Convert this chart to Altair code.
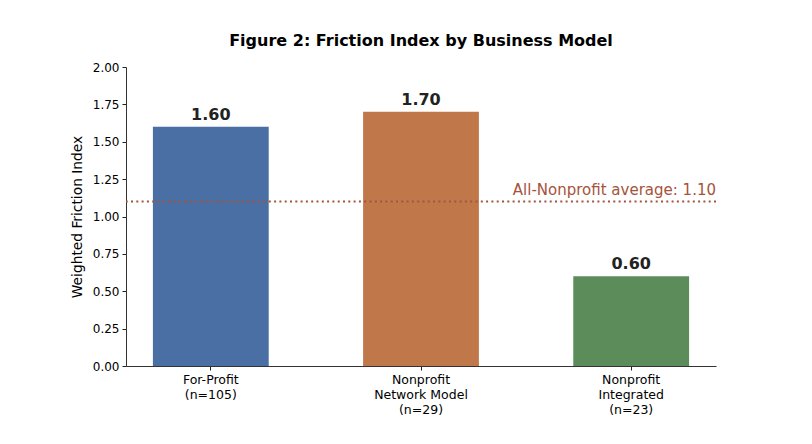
import altair as alt
import pandas as pd

categories = ["For-Profit\n(n=105)", "Nonprofit\nNetwork Model\n(n=29)", "Nonprofit\nIntegrated\n(n=23)"]
values = [1.60, 1.70, 0.60]
colors = ["#4a6fa5", "#c0784b", "#5b8c5a"]
avg_value = 1.10
avg_label = "All-Nonprofit average: 1.10"
y_ticks = [0, 0.25, 0.5, 0.75, 1.0, 1.25, 1.5, 1.75, 2.0]

df = pd.DataFrame({"cat": categories, "val": values, "label": [f"{v:.2f}" for v in values]})
avg_df = pd.DataFrame({"val": [avg_value], "text": [avg_label]})

W, H = 590, 299
FONT = "DejaVu Sans"

x = alt.X("cat:N", sort=categories, title=None,
          scale=alt.Scale(paddingInner=0.449, paddingOuter=0.128),
          axis=alt.Axis(labelAngle=0, labelExpr="split(datum.label, '\\n')",
                        labelFontSize=12.5, labelColor="#000", labelFont=FONT,
                        tickColor="#222", domainColor="#333", tickSize=4,
                        labelPadding=3, labelLineHeight=15))
y_axis = alt.Axis(values=y_ticks,
                  format=".2f", grid=False, labelFontSize=12, labelColor="#000",
                  labelOverlap=False,
                  labelFont=FONT, titleFont=FONT, titleFontSize=13.8,
                  titleFontWeight="normal", titleColor="#000",
                  tickColor="#222", domainColor="#333", tickSize=4,
                  labelPadding=3, titlePadding=8)
y_scale = alt.Scale(domain=[0, 2.0], nice=False)


def y_enc():
    return alt.Y("val:Q", title="Weighted Friction Index", scale=y_scale, axis=y_axis)


bars = alt.Chart(df).mark_bar().encode(
    x=x, y=y_enc(),
    color=alt.Color("cat:N", sort=categories, scale=alt.Scale(domain=categories, range=colors), legend=None),
)

labels = alt.Chart(df).mark_text(baseline="bottom", dy=-4, fontSize=16, fontWeight="bold",
                                 font=FONT, color="#222").encode(
    x=x, y=y_enc(), text="label:N")

rule = alt.Chart(avg_df).mark_rule(color="#a5533a", strokeWidth=2, strokeDash=[2, 3.3]).encode(
    y=y_enc())

avg_text = alt.Chart(avg_df).mark_text(align="right", baseline="bottom", dy=-4, fontSize=15,
                                       font=FONT, color="#a5533a").encode(
    y=y_enc(), x=alt.value(W), text="text:N")

chart = alt.layer(bars, labels, rule, avg_text).properties(
    width=W, height=H,
    title=alt.TitleParams("Figure 2: Friction Index by Business Model", fontSize=16,
                          fontWeight="bold", font=FONT, color="#000", offset=12),
    autosize=alt.AutoSizeParams(type="none"),
    padding={"left": 118, "top": 59, "right": 88, "bottom": 70},
    background="white",
).configure_view(strokeWidth=0, stroke="transparent")

chart.save("out.html", embed_options={"renderer": "svg", "actions": False})
